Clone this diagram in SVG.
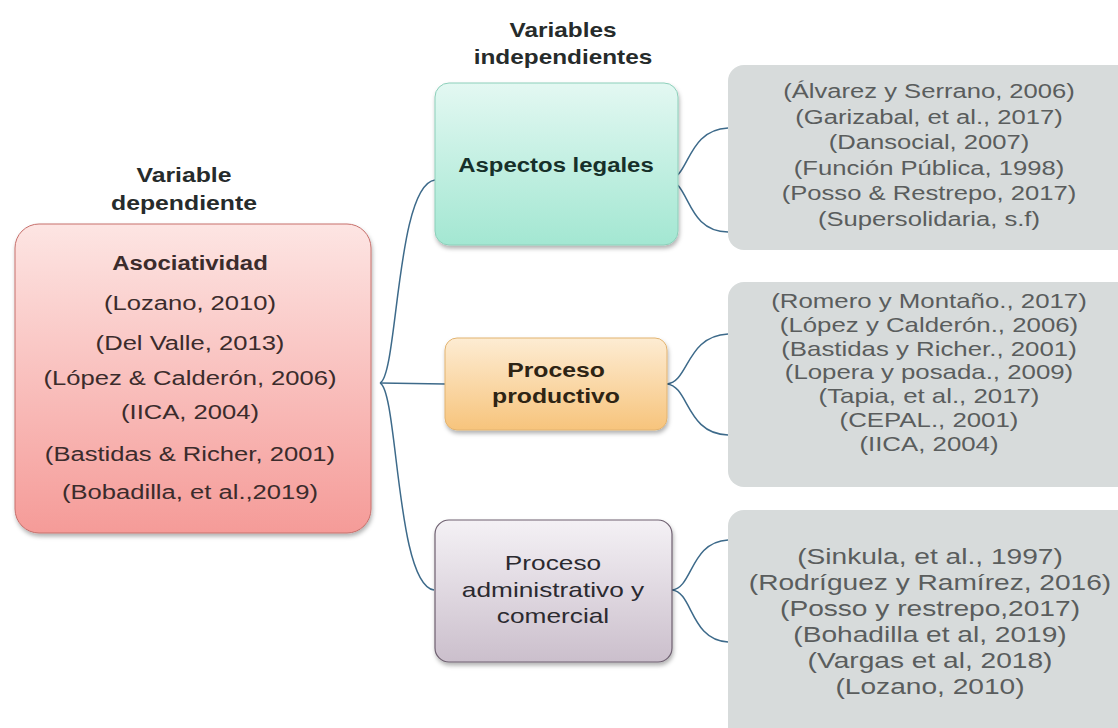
<svg xmlns="http://www.w3.org/2000/svg" width="1118" height="728" viewBox="0 0 1118 728">
<style>
text{font-family:"Liberation Sans",Arial,sans-serif;text-anchor:middle}
.title{font-size:21px;font-weight:bold;fill:#262b2b}
.ref{font-size:21px;fill:#3b2c2c}
.head{font-size:21px;font-weight:bold}
.adm{font-size:21px;fill:#2b2a30}
.gray{fill:#5a5d5d;font-size:21px}
.gray2{fill:#5a5d5d;font-size:20.5px}
.gray3{fill:#5a5d5d;font-size:22.5px}
.conn{fill:none;stroke:#3d6a8a;stroke-width:1.5}
.gbox{fill:#d7dbdb}
</style>
<defs>
<linearGradient id="gPink" x1="0" y1="0" x2="0" y2="1"><stop offset="0" stop-color="#fde5e3"/><stop offset="1" stop-color="#f59b98"/></linearGradient>
<linearGradient id="gTeal" x1="0" y1="0" x2="0" y2="1"><stop offset="0" stop-color="#e3f8f2"/><stop offset="1" stop-color="#a3e7d2"/></linearGradient>
<linearGradient id="gOrange" x1="0" y1="0" x2="0" y2="1"><stop offset="0" stop-color="#fdecd3"/><stop offset="1" stop-color="#f7c47c"/></linearGradient>
<linearGradient id="gPurple" x1="0" y1="0" x2="0" y2="1"><stop offset="0" stop-color="#f4f1f5"/><stop offset="1" stop-color="#cbbfcc"/></linearGradient>
<filter id="sh" x="-10%" y="-10%" width="120%" height="130%"><feDropShadow dx="1" dy="3" stdDeviation="2" flood-color="#000" flood-opacity="0.3"/></filter>
</defs>

<g id="title-dep">
<text class="title" transform="translate(184,0) scale(1.18,1)" x="0" y="182">Variable</text>
<text class="title" transform="translate(184,0) scale(1.18,1)" x="0" y="210">dependiente</text>
</g>
<g id="title-indep">
<text class="title" transform="translate(563,0) scale(1.16,1)" x="0" y="37">Variables</text>
<text class="title" transform="translate(563,0) scale(1.16,1)" x="0" y="64">independientes</text>
</g>

<g id="connectors">
<path class="conn" d="M380,383 C398,375 396,185 435,180"/>
<path class="conn" d="M380,383 L445,384"/>
<path class="conn" d="M380,383 C398,391 396,585 434,590"/>
<path class="conn" d="M668,180 C690,178 686,130 728,128"/>
<path class="conn" d="M668,180 C690,182 686,232 728,232"/>
<path class="conn" d="M667,384 C689,382 686,336 728,334"/>
<path class="conn" d="M667,384 C689,386 686,434 728,435"/>
<path class="conn" d="M672,590 C693,588 690,542 728,540"/>
<path class="conn" d="M672,590 C693,592 690,640 728,642"/>
</g>

<g id="node-asociatividad">
<rect x="15" y="224" width="356" height="309" rx="24" fill="url(#gPink)" stroke="#c7706c" stroke-width="1" filter="url(#sh)"/>
<text class="head" fill="#3b2c2c" transform="translate(190,0) scale(1.14,1)" x="0" y="270">Asociatividad</text>
<g transform="translate(190,0) scale(1.22,1)">
<text class="ref" x="0" y="310">(Lozano, 2010)</text>
<text class="ref" x="0" y="350">(Del Valle, 2013)</text>
<text class="ref" x="0" y="385">(López &amp; Calderón, 2006)</text>
<text class="ref" x="0" y="419">(IICA, 2004)</text>
<text class="ref" x="0" y="461">(Bastidas &amp; Richer, 2001)</text>
<text class="ref" x="0" y="499">(Bobadilla, et al.,2019)</text>
</g>
</g>

<g id="node-aspectos">
<rect x="435" y="83" width="243" height="162" rx="14" fill="url(#gTeal)" stroke="#8ccfba" stroke-width="1" filter="url(#sh)"/>
<text class="head" fill="#17302a" transform="translate(556,0) scale(1.14,1)" x="0" y="172">Aspectos legales</text>
</g>

<g id="node-productivo">
<rect x="445" y="338" width="222" height="92" rx="12" fill="url(#gOrange)" stroke="#e2b370" stroke-width="1" filter="url(#sh)"/>
<g transform="translate(556,0) scale(1.18,1)">
<text class="head" fill="#2e2414" x="0" y="377">Proceso</text>
<text class="head" fill="#2e2414" x="0" y="403">productivo</text>
</g>
</g>

<g id="node-administrativo">
<rect x="435" y="520" width="237" height="142" rx="14" fill="url(#gPurple)" stroke="#6e6070" stroke-width="1.2" filter="url(#sh)"/>
<g transform="translate(553,0) scale(1.25,1)">
<text class="adm" x="0" y="570">Proceso</text>
<text class="adm" x="0" y="597">administrativo y</text>
<text class="adm" x="0" y="623">comercial</text>
</g>
</g>

<g id="refs-legales">
<rect class="gbox" x="728" y="65" width="410" height="185" rx="16"/>
<g transform="translate(929,0) scale(1.22,1)">
<text class="gray" x="0" y="98">(Álvarez y Serrano, 2006)</text>
<text class="gray" x="0" y="124">(Garizabal, et al., 2017)</text>
<text class="gray" x="0" y="149">(Dansocial, 2007)</text>
<text class="gray" x="0" y="175">(Función Pública, 1998)</text>
<text class="gray" x="0" y="200">(Posso &amp; Restrepo, 2017)</text>
<text class="gray" x="0" y="226">(Supersolidaria, s.f)</text>
</g>
</g>

<g id="refs-productivo">
<rect class="gbox" x="728" y="282" width="410" height="205" rx="16"/>
<g transform="translate(929,0) scale(1.26,1)">
<text class="gray2" x="0" y="308">(Romero y Montaño., 2017)</text>
<text class="gray2" x="0" y="332">(López y Calderón., 2006)</text>
<text class="gray2" x="0" y="356">(Bastidas y Richer., 2001)</text>
<text class="gray2" x="0" y="379">(Lopera y posada., 2009)</text>
<text class="gray2" x="0" y="403">(Tapia, et al., 2017)</text>
<text class="gray2" x="0" y="427">(CEPAL., 2001)</text>
<text class="gray2" x="0" y="451">(IICA, 2004)</text>
</g>
</g>

<g id="refs-administrativo">
<rect class="gbox" x="728" y="510" width="410" height="240" rx="16"/>
<g transform="translate(930,0) scale(1.25,1)">
<text class="gray3" x="0" y="564">(Sinkula, et al., 1997)</text>
<text class="gray3" x="0" y="590">(Rodríguez y Ramírez, 2016)</text>
<text class="gray3" x="0" y="616">(Posso y restrepo,2017)</text>
<text class="gray3" x="0" y="642">(Bohadilla et al, 2019)</text>
<text class="gray3" x="0" y="668">(Vargas et al, 2018)</text>
<text class="gray3" x="0" y="694">(Lozano, 2010)</text>
</g>
</g>
</svg>
